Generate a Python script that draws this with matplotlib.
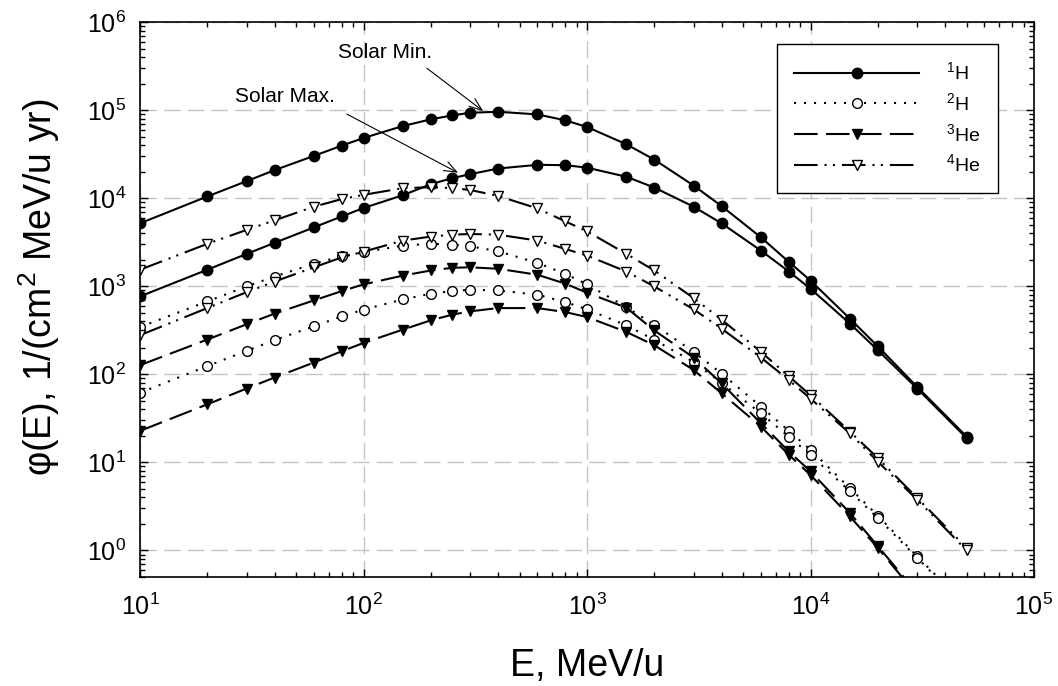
import matplotlib
matplotlib.use("Agg")
import matplotlib.pyplot as plt
from matplotlib.ticker import LogLocator, FixedLocator, NullFormatter

plt.rcParams['font.family'] = ['Liberation Sans', 'DejaVu Sans']
plt.rcParams['mathtext.fontset'] = 'custom'
plt.rcParams['mathtext.rm'] = 'Liberation Sans'
plt.rcParams['mathtext.it'] = 'Liberation Sans:italic'
plt.rcParams['mathtext.bf'] = 'Liberation Sans:bold'
plt.rcParams['lines.scale_dashes'] = False

# ---- data ----
energy = [10, 20, 30, 40, 60, 80, 100, 150, 200, 250, 300, 400, 600, 800, 1000,
          1500, 2000, 3000, 4000, 6000, 8000, 10000, 15000, 20000, 30000, 50000]

h1_min = [5180, 10450, 15600, 20800, 30200, 39500, 48200, 65900, 78500, 87100, 93200,
          95700, 89300, 76500, 64300, 40900, 27400, 13900, 8140, 3590, 1890, 1160,
          429, 208, 72, 19.6]
h1_max = [767, 1540, 2330, 3110, 4660, 6210, 7730, 10800, 14400, 16900, 18700,
          21700, 23900, 23700, 22200, 17500, 13200, 8000, 5180, 2540, 1470, 937,
          377, 188, 69, 18.8]

h2_min = [344, 673, 995, 1290, 1800, 2190, 2430, 2900, 3030, 2970, 2840, 2500, 1840,
          1380, 1050, 580, 365, 180, 102, 43, 22.8, 13.9, 5.1, 2.49, 0.86, 0.23]
h2_max = [61.8, 124, 185, 244, 351, 455, 542, 709, 823, 881, 913, 896, 801, 661, 547,
          360, 246, 138, 80, 36, 19.6, 12.2, 4.7, 2.34, 0.83, 0.22]

he3_min = [127, 248, 370, 489, 691, 881, 1050, 1320, 1510, 1620, 1640, 1580, 1350,
           1070, 844, 571, 315, 155, 79, 27.8, 13.3, 7.9, 2.67, 1.12, 0.33, 0.072]
he3_max = [22.8, 45.6, 69, 92, 136, 183, 227, 322, 410, 476, 519, 565, 565, 509, 447,
           303, 214, 112, 61, 25.5, 12.2, 7.2, 2.44, 1.07, 0.31, 0.068]

he4_min = [1540, 3030, 4360, 5600, 8000, 9770, 10900, 13000, 13300, 13000, 12400,
           10600, 7650, 5450, 4200, 2330, 1510, 734, 418, 180, 95, 58, 22.4, 11.2,
           3.95, 1.07]
he4_max = [278, 565, 857, 1130, 1640, 2130, 2470, 3300, 3660, 3850, 3920, 3850, 3300,
           2650, 2230, 1470, 995, 547, 330, 155, 86, 53, 21.4, 10.2, 3.78, 1.0]

labels = [r'$\mathregular{^{1}H}$', r'$\mathregular{^{2}H}$',
          r'$\mathregular{^{3}He}$', r'$\mathregular{^{4}He}$']
x_ticks = [1e1, 1e2, 1e3, 1e4, 1e5]
x_ticklabels = [r'$\mathregular{10^{1}}$', r'$\mathregular{10^{2}}$', r'$\mathregular{10^{3}}$',
                r'$\mathregular{10^{4}}$', r'$\mathregular{10^{5}}$']
y_ticks = [1e0, 1e1, 1e2, 1e3, 1e4, 1e5, 1e6]
y_ticklabels = [r'$\mathregular{10^{0}}$', r'$\mathregular{10^{1}}$', r'$\mathregular{10^{2}}$',
                r'$\mathregular{10^{3}}$', r'$\mathregular{10^{4}}$', r'$\mathregular{10^{5}}$',
                r'$\mathregular{10^{6}}$']

# ---- styles ----
ls_dot = (0, (1.5, 5.7))
ls_dash = (0, (17, 6))
ls_dd = (0, (17, 5, 1.5, 4.5, 1.5, 5))
lw = 1.5

fig = plt.figure(figsize=(10.58, 6.86), dpi=100)
ax = fig.add_axes([140 / 1058, 1 - 577 / 686, 894 / 1058, 555 / 686])

styles = [
    (h1_min, h1_max, dict(linestyle='-', marker='o', markerfacecolor='black', markersize=7.5)),
    (h2_min, h2_max, dict(linestyle=ls_dot, marker='o', markerfacecolor='white', markersize=7)),
    (he3_min, he3_max, dict(linestyle=ls_dash, marker='v', markerfacecolor='black', markersize=7.5)),
    (he4_min, he4_max, dict(linestyle=ls_dd, marker='v', markerfacecolor='white', markersize=7.5)),
]
handles = []
for (smin, smax, st), lab in zip(styles, labels):
    for i, s in enumerate((smin, smax)):
        ln, = ax.plot(energy, s, color='black', linewidth=lw, markeredgecolor='black',
                      markeredgewidth=1.0, label=lab if i == 0 else None, **st)
        if i == 0:
            handles.append(ln)

ax.set_xscale('log')
ax.set_yscale('log')
ax.set_xlim(10, 1e5)
ax.set_ylim(0.5, 1e6)

ax.xaxis.set_major_locator(FixedLocator(x_ticks))
ax.set_xticklabels(x_ticklabels)
ax.yaxis.set_major_locator(FixedLocator(y_ticks))
ax.set_yticklabels(y_ticklabels)
ax.xaxis.set_minor_locator(LogLocator(base=10, subs=range(2, 10), numticks=20))
ax.yaxis.set_minor_locator(LogLocator(base=10, subs=range(2, 10), numticks=20))
ax.xaxis.set_minor_formatter(NullFormatter())
ax.yaxis.set_minor_formatter(NullFormatter())

ax.tick_params(which='both', direction='in', top=True, right=True, width=1.0, color='black')
ax.tick_params(which='major', length=6)
ax.tick_params(which='minor', length=3.5)
ax.tick_params(axis='x', which='major', labelsize=18, pad=12)
ax.tick_params(axis='y', which='major', labelsize=18, pad=10)

for sp in ax.spines.values():
    sp.set_linewidth(1.2)

ax.grid(True, which='major', color='#c4c4c4', linestyle=(0, (12, 5)), linewidth=1.0)
ax.set_axisbelow(True)

ax.set_xlabel('E, MeV/u', fontsize=27)
ax.set_ylabel(r'φ(E), 1/(cm$\mathregular{^2}$ MeV/u yr)', fontsize=27)
ax.xaxis.set_label_coords(0.5, -0.128)
ax.yaxis.set_label_coords(-0.087, 0.5225)

# annotations
ax.text(125, 4.5e5, 'Solar Min.', fontsize=15, ha='center', va='center')
ax.annotate('', xy=(343, 9.75e4), xytext=(192, 2.99e5),
            arrowprops=dict(arrowstyle='->,head_length=0.9,head_width=0.35', color='black',
                            linewidth=0.8, shrinkA=0, shrinkB=0))
ax.text(44.6, 1.44e5, 'Solar Max.', fontsize=15, ha='center', va='center')
ax.annotate('', xy=(265, 1.94e4), xytext=(84.3, 9.0e4),
            arrowprops=dict(arrowstyle='->,head_length=0.9,head_width=0.35', color='black',
                            linewidth=0.8, shrinkA=0, shrinkB=0))

leg = ax.legend(handles=handles, loc='upper left', bbox_to_anchor=(0.7125, 0.9604),
                borderaxespad=0, fontsize=14, handlelength=6.4, handletextpad=1.4,
                labelspacing=0.45, borderpad=0.9, numpoints=1, fancybox=False,
                frameon=True, edgecolor='black', framealpha=1)
leg.get_frame().set_linewidth(1.0)

fig.savefig('out.png', dpi=100)
